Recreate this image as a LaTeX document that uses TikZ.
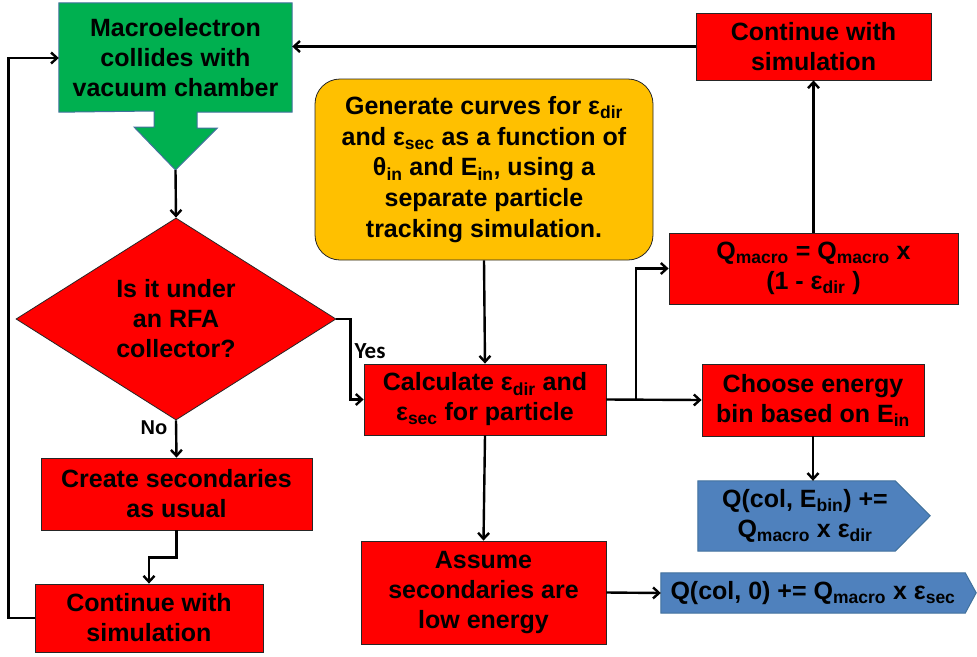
\documentclass[tikz,border=0pt]{standalone}
\usepackage{fontspec}
\setmainfont{Liberation Sans}
\newfontfamily\calibri{Carlito}
\usetikzlibrary{shapes.geometric,arrows.meta,backgrounds}
\definecolor{boxred}{HTML}{FF0000}
\definecolor{boxgreen}{HTML}{00B050}
\definecolor{boxyellow}{HTML}{FFC000}
\definecolor{boxblue}{HTML}{4F81BD}
\definecolor{edgeblue}{HTML}{41719C}
\begin{document}
\begin{tikzpicture}[x=1pt, y=-1pt,
    box/.style={draw=black!85, line width=0.8pt, fill=boxred, align=center,
                inner sep=0pt, font=\fontsize{25}{30}\selectfont\bfseries},
    plain/.style={align=center, inner sep=0pt,
                font=\fontsize{25}{30}\selectfont\bfseries},
    shapeline/.style={draw=edgeblue, line width=1pt},
    arrow/.style={-{Straight Barb[length=6pt,width=11pt]}, line width=2.4pt}
]
\useasboundingbox (0,0) rectangle (977,656);

% left column
\node[plain, minimum width=233, minimum height=108] (collide) at (175.5,58)
     {Macroelectron\\collides with\\vacuum chamber};
\coordinate (tip) at (175.5,170);
\node[box, diamond, aspect=1.58, minimum width=320, minimum height=202] (rfa) at (176,319)
     {Is it under\\an RFA\\collector?};
\node[box, minimum width=271, minimum height=72] (create) at (176.5,494)
     {Create secondaries\\as usual};
\node[box, minimum width=228, minimum height=68] (contleft) at (149,618)
     {Continue with\\simulation};

% middle column
\node[box, fill=boxyellow, rounded corners=25pt, minimum width=338, minimum height=181,
      font=\fontsize{25}{30.6}\selectfont\bfseries] (gen) at (484,169.5)
     {Generate curves for ε\textsubscript{dir}\\and ε\textsubscript{sec} as a function of\\θ\textsubscript{in} and E\textsubscript{in}, using a\\separate particle\\tracking simulation.};
\node[box, minimum width=242, minimum height=71] (calc) at (485,399.5)
     {Calculate ε\textsubscript{dir} and\\ε\textsubscript{sec} for particle};
\node[box, minimum width=245, minimum height=103] (assume) at (483.5,592.5)
     {Assume\\secondaries are\\low energy};

% right column
\node[box, minimum width=235, minimum height=67] (conttop) at (813.5,46.5)
     {Continue with\\simulation};
\node[box, minimum width=289, minimum height=71] (qmac) at (813.5,268.5)
     {Q\textsubscript{macro} = Q\textsubscript{macro} x\\(1 - ε\textsubscript{dir} )};
\node[box, minimum width=222, minimum height=72] (choose) at (813,400)
     {Choose energy\\bin based on E\textsubscript{in}};
\node[plain, minimum width=214, minimum height=70] (bin) at (805,516)
     {Q(col, E\textsubscript{bin}) +=\\Q\textsubscript{macro} x ε\textsubscript{dir}};
\node[plain, minimum width=304, minimum height=40] (low) at (813,593)
     {Q(col, 0) += Q\textsubscript{macro} x ε\textsubscript{sec}};
\coordinate (fork) at (636,399.5);

% block shapes behind the texts
\begin{pgfonlayer}{background}
\draw[shapeline, fill=boxgreen] ([yshift=1pt]collide.north west) -- ([yshift=1pt]collide.north east)
     -- (collide.south east) -- ++(-95,0) -- ++(0,16) -- ++(20,0) -- (tip)
     -- ++(-41.5,-43) -- ++(20,0) -- ++(0,-16) -- (collide.south west) -- cycle;
\draw[shapeline, fill=boxblue] (bin.north west) -- ([xshift=-17pt]bin.north east)
     -- ++(35,35) -- ([xshift=-17pt]bin.south east) -- (bin.south west) -- cycle;
\draw[shapeline, fill=boxblue] (low.north west) -- (low.north east)
     -- ++(11,20) -- (low.south east) -- (low.south west) -- cycle;
\end{pgfonlayer}

% connectors
\draw[arrow] (tip) -- (rfa.north);
\draw[arrow] (rfa.east) -- ++(14,0) |- (calc.west);
\node[font=\calibri\fontsize{23}{26}\selectfont\bfseries, inner sep=0pt] (yes) at (370,351) {Yes};
\draw[arrow] (rfa.south) -- (create.north);
\node[font=\fontsize{20}{24}\selectfont\bfseries, inner sep=0pt] (no) at (154,428) {No};
\draw[arrow] (create.south) -- ++(0,27) -| (contleft.north);
\draw[arrow] (contleft.west) -- ++(-26,0) |- (collide.west);
\draw[arrow] (conttop.west) -- (conttop.west -| collide.east);
\draw[arrow] (gen.south) -- (calc.north);
\draw[arrow] (calc.east) -- (choose.west);
\draw[arrow] (fork) |- (qmac.west);
\draw[arrow] (qmac.north) -- (conttop.south);
\draw[arrow] (choose.south) -- (choose.south |- bin.north);
\draw[arrow] (calc.south) -- (assume.north);
\draw[arrow] (assume.east) -- (low.west);
\end{tikzpicture}
\end{document}
